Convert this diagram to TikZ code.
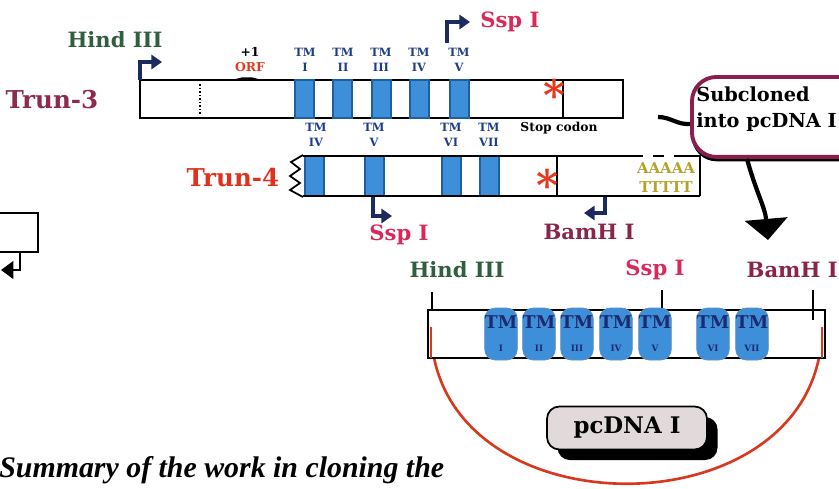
\documentclass[tikz,border=0pt]{standalone}
\usepackage{fontspec}
\setmainfont{DejaVu Serif}
\newfontfamily\capfont{Liberation Serif}
\usetikzlibrary{arrows.meta,positioning,calc,shadows}
\definecolor{navy}{HTML}{1C2B5E}
\definecolor{hindgreen}{HTML}{2F5F3F}
\definecolor{trunmaroon}{HTML}{8E2A50}
\definecolor{trunred}{HTML}{E0301E}
\definecolor{sspred}{HTML}{D9285A}
\definecolor{bammaroon}{HTML}{8A2448}
\definecolor{tmblue}{HTML}{3D8FDA}
\definecolor{tmedge}{HTML}{1F5FA0}
\definecolor{tmtext}{HTML}{1E3C8C}
\definecolor{tmdark}{HTML}{1E2A6E}
\definecolor{orfred}{HTML}{E8381E}
\definecolor{polya}{HTML}{B5A22A}
\definecolor{boxmaroon}{HTML}{8B1E4E}
\definecolor{ringred}{HTML}{D8381E}
\definecolor{vecfill}{HTML}{E2D9DA}
\newcommand{\ptsize}[1]{\fontsize{#1}{#1}\selectfont}
\tikzset{
  dna/.style={draw=black,line width=1.6pt},
  site/.style={line width=1.8pt,draw=navy,-{Triangle[length=6pt,width=8pt]}},
  tmblock/.style={draw=tmedge,fill=tmblue,line width=0.8pt},
  tmtag/.style={font=\bfseries\fontsize{6.5}{8.5}\selectfont,text=tmtext,align=center,inner sep=0pt},
  tmbarrel/.style={fill=tmblue,draw=tmedge!70,line width=0.4pt,rounded corners=6pt,minimum width=0.56cm,minimum height=1.04cm,inner sep=0pt,align=center,text=tmdark,font=\bfseries},
  enzyme/.style={font=\bfseries\ptsize{12},text=#1,inner sep=0pt},
  construct/.style={font=\bfseries\ptsize{14},text=#1,inner sep=0pt},
  stopmark/.style={font=\bfseries\ptsize{24},text=orfred,inner sep=0pt}
}
\begin{document}
\begin{tikzpicture}[x=0.02cm,y=-0.02cm]
  \useasboundingbox (0,0) rectangle (839,488);
  % Trun-3
  \node[construct=trunmaroon] (tthree) at (52,100) {Trun-3};
  \draw[dna] (140,80) rectangle (623,118);
  \draw[densely dotted,line width=1pt] (200,84) -- (200,114);
  \draw[line width=1.2pt] (236,80) -- (242,78.5) -- (252,78.5) -- (258,80);
  \foreach \x in {295,333,372,410,450}
    \draw[tmblock] (\x,80) rectangle ++(19,38);
  \draw[line width=0.8pt] (563,80) -- (563,118);
  \node[stopmark] (stopa) at (555,95) {*};
  \node[font=\bfseries\ptsize{7},inner sep=0pt] (stoplbl) at (559,128) {Stop codon};
  \node[font=\bfseries\ptsize{7},inner sep=0pt] (plusone) at (250,52) {+1};
  \node[font=\bfseries\ptsize{7},text=orfred,inner sep=0pt] (orf) at (250,67) {ORF};
  \foreach \x/\n in {305/I,343/II,381/III,419/IV,459/V}
    \node[tmtag] at (\x,60) {TM\\\n};
  \draw[site] (140,80) -- (140,62) -- (162,62);
  \node[enzyme=hindgreen] (hindtop) at (115,40) {Hind III};
  \draw[site] (447,43) -- (447,22) -- (470,22);
  \node[enzyme=sspred,anchor=west] (ssptop) at (480,22) {Ssp I};
  % Trun-4
  \node[construct=trunred] (tfour) at (233,178) {Trun-4};
  \foreach \x/\n in {316/IV,374/V,451/VI,489/VII}
    \node[tmtag] at (\x,135) {TM\\\n};
  \foreach \x in {305,365,442,480}
    \draw[tmblock] (\x,156) rectangle ++(19,40);
  \draw[line width=1pt] (303,155) -- (291,162) -- (300,169) -- (290,176) -- (300,183) -- (290,190) -- (303,197);
  \draw[dna] (303,156) -- (632,156);
  \draw[dna] (303,196) -- (632,196);
  \draw[dna,dashed,dash pattern=on 6pt off 6pt] (632,156) -- (676,156);
  \draw[dna] (676,156) -- (700,156) -- (700,196);
  \draw[line width=1.2pt] (632,196) -- (700,196);
  \draw[line width=0.8pt] (557,156) -- (557,196);
  \node[stopmark] (stopb) at (548,185) {*};
  \node[font=\bfseries\ptsize{8.5},text=polya,inner sep=0pt] (polyaa) at (666,168) {AAAAA};
  \node[font=\bfseries\ptsize{8.5},text=polya,inner sep=0pt] (polyat) at (666,187) {TTTTT};
  \draw[site] (373,197) -- (373,216) -- (392,216);
  \node[enzyme=sspred] (sspmid) at (399,235) {Ssp I};
  \draw[site] (605,197) -- (605,213) -- (584,213);
  \node[enzyme=bammaroon] (bammid) at (589,232) {BamH I};
  % subcloning
  \node[draw=boxmaroon,line width=2.2pt,fill=white,rounded corners=14pt,minimum width=3.8cm,minimum height=1.6cm,anchor=north west,
        drop shadow={shadow xshift=0pt,shadow yshift=-2.5pt,opacity=1,fill=black}] (subcl) at (690,75) {};
  \node[font=\bfseries\fontsize{11}{15}\selectfont,anchor=north west,align=left,inner sep=0pt] (subtxt) at (696,86) {Subcloned\\into pcDNA I};
  \coordinate (tthreeend) at (658,117);
  \draw[line width=2.4pt] (tthreeend) to[out=0,in=185] ($(subcl.west)+(0,7)$);
  \coordinate (vectip) at (768,240);
  \draw[line width=2.4pt,-{Triangle[length=12pt,width=24pt]}] ($(subcl.south west)+(57,0)$) to[out=-75,in=95] (vectip);
  % left fragment
  \draw[line width=1.3pt] (-2,213) rectangle (38,252);
  \draw[line width=1.3pt,-{Triangle[length=7pt,width=10pt]}] (20,252) -- (20,270) -- (1,270);
  % pcDNA I construct
  \draw[ringred,line width=1.5pt] (431,327) .. controls (431,536) and (822,536) .. (822,327);
  \draw[dna,fill=white] (428,310) rectangle (825,358);
  \draw[ringred,line width=1.5pt] (431,327) -- (431,358);
  \draw[ringred,line width=1.5pt] (822,327) -- (822,358);
  \draw[line width=1pt] (432,292) -- (432,310);
  \draw[line width=1pt] (662,290) -- (662,310);
  \draw[line width=1pt] (813,290) -- (813,320);
  \foreach \x/\n in {501/I,539/II,577/III,616/IV,655/V,713/VI,752/VII}
    \node[tmbarrel] at (\x,334) {{\ptsize{10}TM}\\[1pt]{\ptsize{5}\n}};
  \node[enzyme=hindgreen] (hindvec) at (457,270) {Hind III};
  \node[enzyme=sspred] (sspvec) at (655,270) {Ssp I};
  \node[enzyme=bammaroon,anchor=east] (bamvec) at (838,270) {BamH I};
  \node[draw=black,line width=1pt,fill=vecfill,rounded corners=7pt,minimum width=3.2cm,minimum height=0.86cm,
        font=\bfseries\ptsize{13},general shadow={fill=black,shadow xshift=6pt,shadow yshift=-6pt}] (pcdna) at (627,428) {pcDNA I};
  % caption
  \node[font=\capfont\bfseries\itshape\ptsize{17},anchor=base west,inner sep=0pt] (summary) at (-1,477) {Summary of the work in cloning the};
\end{tikzpicture}
\end{document}
